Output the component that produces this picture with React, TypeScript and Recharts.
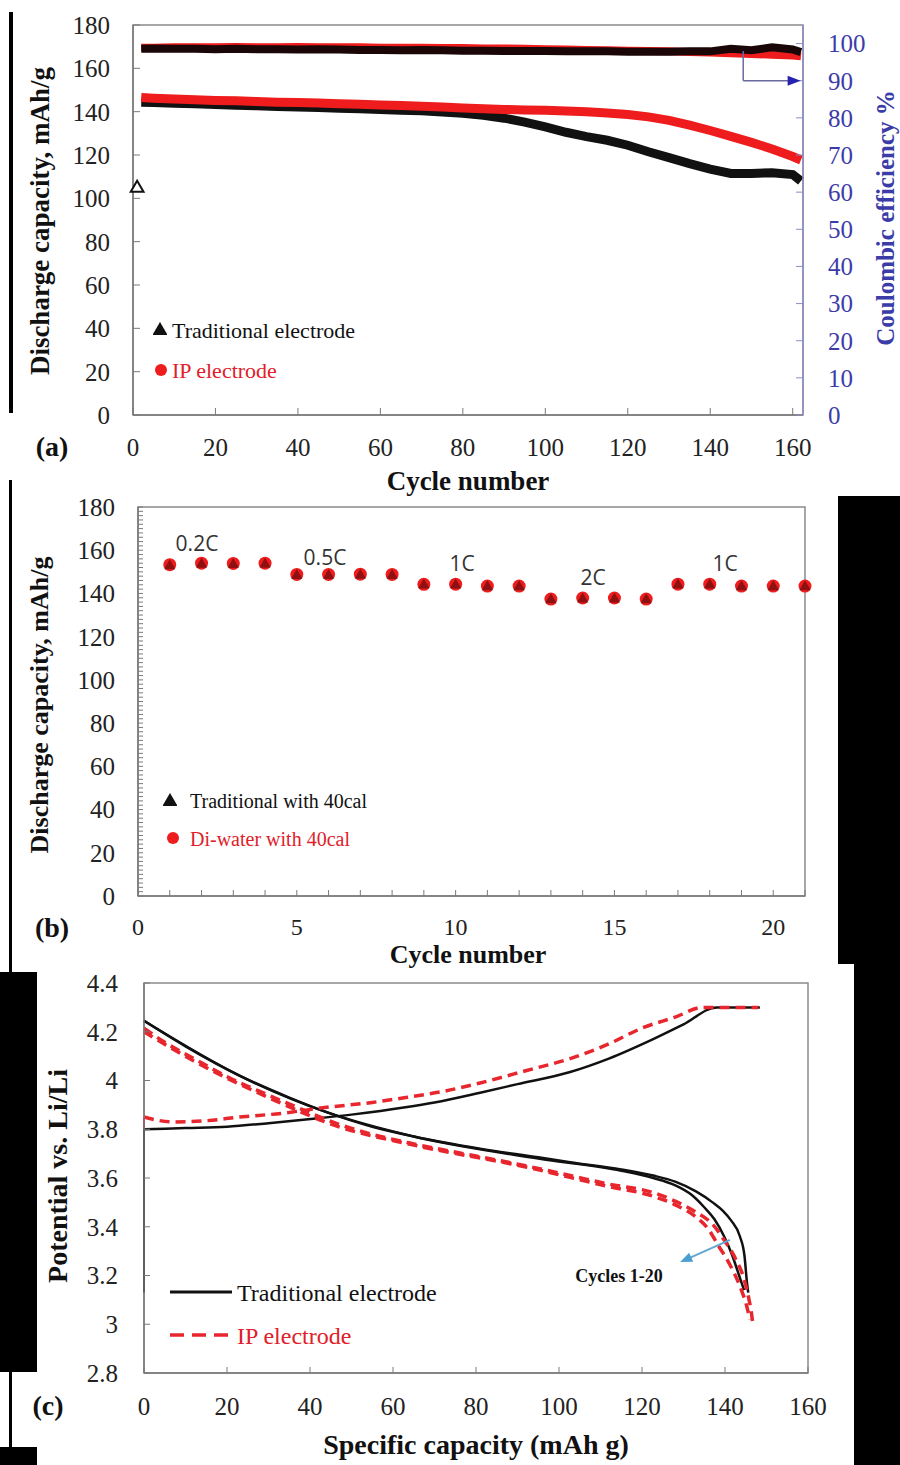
import React from 'react';
import {
  ComposedChart,
  Line,
  XAxis,
  YAxis,
  ReferenceArea,
  ReferenceLine,
  ReferenceDot,
} from 'recharts';

const SERIF = '"Liberation Serif", "Times New Roman", serif';
const SANS = '"Open Sans", "Noto Sans", sans-serif';
const RED = '#ee1c1c';
const BLACK = '#111111';
const BLUE = '#3c3ca8';
const AXIS = '#7a7a7a';

// (a) long-term cycling
const cycleA = [2, 5, 10, 15, 20, 25, 30, 35, 40, 45, 50, 55, 60, 65, 70, 75, 80, 85, 90, 95, 100, 105, 110, 115, 120, 125, 130, 135, 140, 145, 150, 155, 160, 162];
const tradCapacity = [144.3, 144.2, 143.9, 143.6, 143.3, 143.0, 142.7, 142.4, 142.1, 141.9, 141.6, 141.3, 141.0, 140.7, 140.4, 139.9, 139.3, 138.3, 137.0, 135.2, 133.0, 130.5, 128.5, 126.8, 124.5, 121.5, 118.8, 116.0, 113.5, 111.5, 111.5, 111.8, 111.0, 108.0];
const ipCapacity = [146.5, 146.2, 145.8, 145.5, 145.2, 145.0, 144.7, 144.4, 144.2, 144.0, 143.7, 143.4, 143.1, 142.8, 142.5, 142.1, 141.7, 141.3, 141.0, 140.8, 140.6, 140.3, 140.0, 139.4, 138.7, 137.6, 136.0, 133.8, 131.3, 128.6, 125.8, 122.8, 119.3, 117.7];
const tradCE = [98.6, 98.7, 98.6, 98.6, 98.5, 98.6, 98.5, 98.5, 98.4, 98.5, 98.4, 98.3, 98.3, 98.2, 98.3, 98.2, 98.1, 98.1, 98.0, 98.0, 98.0, 97.9, 97.9, 97.9, 97.8, 97.8, 97.8, 97.9, 97.9, 98.6, 98.2, 99.0, 98.4, 97.7];
const ipCE = [98.9, 98.9, 99.0, 99.0, 99.0, 99.1, 99.0, 99.0, 99.1, 99.0, 99.0, 99.0, 98.9, 98.9, 98.9, 98.8, 98.8, 98.7, 98.7, 98.6, 98.5, 98.4, 98.3, 98.2, 98.1, 98.0, 97.9, 97.7, 97.6, 97.4, 97.2, 97.0, 96.8, 96.6];
const tradFirstCycle = [{ cycle: 1, cap: 105 }];
const capTicks = [0, 20, 40, 60, 80, 100, 120, 140, 160, 180];
const ceTicks = [0, 10, 20, 30, 40, 50, 60, 70, 80, 90, 100];
const cycleTicksA = [0, 20, 40, 60, 80, 100, 120, 140, 160];

// (b) rate capability
const rateCycles = [1, 2, 3, 4, 5, 6, 7, 8, 9, 10, 11, 12, 13, 14, 15, 16, 17, 18, 19, 20, 21];
const ipRate = [153.3, 154.0, 153.9, 154.0, 148.8, 148.8, 148.9, 148.8, 144.2, 144.3, 143.4, 143.4, 137.4, 137.9, 137.9, 137.4, 144.3, 144.3, 143.4, 143.4, 143.4];
const tradRate = [153.0, 153.6, 153.5, 153.6, 148.5, 148.5, 148.6, 148.5, 144.0, 144.0, 143.2, 143.2, 137.2, 137.6, 137.6, 137.2, 144.0, 144.0, 143.2, 143.2, 143.2];
const rateXTicks = Array.from({ length: 22 }, (_, i) => i);
const rateYTicks = Array.from({ length: 91 }, (_, i) => i * 2);

// (c) charge / discharge profiles, [capacity, potential]
const tradStart: [number, number][] = [[0, 3.13], [0, 3.8]];
const tradCharge: [number, number][] = [[0, 3.8], [10, 3.805], [20, 3.81], [30, 3.825], [42, 3.845], [50, 3.86], [63, 3.89], [70, 3.91], [81, 3.95], [90, 3.985], [102.7, 4.035], [112, 4.09], [122.7, 4.17], [130, 4.23], [138, 4.3], [148.4, 4.3]];
const tradDischargeA: [number, number][] = [[0, 4.245], [10, 4.14], [23, 4.02], [35, 3.93], [44, 3.87], [55, 3.81], [65, 3.77], [81, 3.72], [95, 3.685], [102.7, 3.665], [115, 3.635], [122.7, 3.61], [128, 3.585], [133, 3.545], [137, 3.5], [139.5, 3.465], [141.5, 3.425], [143.6, 3.36], [144.7, 3.28], [145.3, 3.17], [145.6, 3.13]];
const tradDischargeB: [number, number][] = [[0, 4.245], [23, 4.02], [44, 3.87], [65, 3.77], [95, 3.68], [115, 3.63], [122.7, 3.6], [128, 3.57], [132, 3.53], [135, 3.48], [137.5, 3.43], [139.8, 3.36], [141.8, 3.28], [143.4, 3.2], [144.6, 3.14]];
const ipStart: [number, number][] = [[0, 3.55], [0, 3.85]];
const ipCharge: [number, number][] = [[0, 3.85], [7, 3.83], [15, 3.835], [23, 3.85], [33, 3.865], [44, 3.89], [55, 3.91], [63, 3.93], [72, 3.955], [81, 3.99], [92, 4.04], [102.7, 4.09], [112, 4.15], [120, 4.215], [128, 4.26], [134.7, 4.3], [148, 4.3]];
const ipDischargeA: [number, number][] = [[0, 4.215], [4.7, 4.16], [12, 4.09], [20.7, 4.01], [30, 3.94], [36.9, 3.89], [47, 3.82], [56, 3.775], [65, 3.74], [80, 3.69], [92, 3.65], [102.7, 3.61], [112, 3.575], [122.7, 3.54], [128, 3.505], [133, 3.46], [137, 3.41], [140, 3.34], [142.5, 3.27], [144.5, 3.19], [145.8, 3.1], [146.5, 3.03], [146.7, 3.0]];
const ipDischargeB: [number, number][] = [[0, 4.2], [12, 4.08], [30, 3.93], [47, 3.81], [65, 3.735], [92, 3.645], [112, 3.565], [122.7, 3.525], [128, 3.49], [133, 3.44], [136, 3.39], [138.5, 3.32], [141, 3.25], [143.5, 3.16], [145.3, 3.07], [146, 3.02]];
const capTicksC = [0, 20, 40, 60, 80, 100, 120, 140, 160];
const potentialTicks = [2.8, 3.0, 3.2, 3.4, 3.6, 3.8, 4.0, 4.2, 4.4];

const rowsA = cycleA.map((cycle, i) => ({
  cycle,
  trad: tradCapacity[i],
  ip: ipCapacity[i],
  tradCe: tradCE[i],
  ipCe: ipCE[i],
}));
const rowsB = rateCycles.map((cycle, i) => ({ cycle, ip: ipRate[i], trad: tradRate[i] }));
const toRows = (pts: [number, number][]) => pts.map(([cap, v]) => ({ cap, v }));

const tickStyle = { fill: '#222', fontSize: 25, fontFamily: SERIF };
const axisLine = { stroke: AXIS, strokeWidth: 1.5 };

function Txt({
  x,
  y,
  children,
  size = 25,
  bold = false,
  color = '#111',
  rotate = 0,
  align = 'center',
  family = SERIF,
}: {
  x: number;
  y: number;
  children: React.ReactNode;
  size?: number;
  bold?: boolean;
  color?: string;
  rotate?: number;
  align?: 'center' | 'left';
  family?: string;
}) {
  return (
    <div
      style={{
        position: 'absolute',
        left: x,
        top: y,
        transform: `translate(${align === 'center' ? '-50%' : '0'}, -50%) rotate(${rotate}deg)`,
        fontFamily: family,
        fontSize: size,
        fontWeight: bold ? 700 : 400,
        color,
        whiteSpace: 'nowrap',
        lineHeight: 1,
      }}
    >
      {children}
    </div>
  );
}

function Block({ x, y, w, h }: { x: number; y: number; w: number; h: number }) {
  return <div style={{ position: 'absolute', left: x, top: y, width: w, height: h, background: '#000' }} />;
}

const triangle = (cx: number, cy: number, s: number) =>
  `M${cx},${cy - s * 0.62} L${cx + s * 0.58},${cy + s * 0.38} L${cx - s * 0.58},${cy + s * 0.38} Z`;

function CircleDot(props: any) {
  const { cx, cy, index } = props;
  if (cx == null || cy == null) return <g key={`c-${index}`} />;
  return <circle key={`c-${index}`} cx={cx} cy={cy} r={6.5} fill={RED} />;
}

function TriangleDot(props: any) {
  const { cx, cy, index } = props;
  if (cx == null || cy == null) return <g key={`t-${index}`} />;
  return <path key={`t-${index}`} d={triangle(cx, cy, 10)} fill="#000" fillOpacity={0.4} />;
}

function HollowTriangle(props: any) {
  const { cx, cy, index } = props;
  if (cx == null || cy == null) return <g key={`h-${index}`} />;
  return <path key={`h-${index}`} d={triangle(cx, cy, 11)} fill="#fff" stroke={BLACK} strokeWidth={2} />;
}

function ArrowRight(props: any) {
  const { cx, cy } = props;
  return <path d={`M${cx - 10},${cy - 5} L${cx + 3},${cy} L${cx - 10},${cy + 5} Z`} fill="#2323b0" />;
}

function ArrowDownLeft(props: any) {
  const { cx, cy } = props;
  const dx = -0.915;
  const dy = 0.403;
  const bx = cx - dx * 12;
  const by = cy - dy * 12;
  const px = -dy * 5;
  const py = dx * 5;
  return <path d={`M${cx},${cy} L${bx + px},${by + py} L${bx - px},${by - py} Z`} fill="#4a9fd0" />;
}

function LegendMark({ kind }: { kind: 'tri' | 'dot' | 'solid' | 'dash' }) {
  if (kind === 'tri') {
    return (
      <svg width={14} height={14} style={{ display: 'block' }}>
        <path d={triangle(7, 8, 13)} fill={BLACK} />
      </svg>
    );
  }
  if (kind === 'dot') {
    return (
      <svg width={14} height={14} style={{ display: 'block' }}>
        <circle cx={7} cy={7} r={6} fill={RED} />
      </svg>
    );
  }
  return (
    <svg width={64} height={8} style={{ display: 'block' }}>
      <line
        x1={1}
        x2={63}
        y1={4}
        y2={4}
        stroke={kind === 'solid' ? BLACK : '#e8262e'}
        strokeWidth={kind === 'solid' ? 3 : 3.5}
        strokeDasharray={kind === 'dash' ? '14 8' : undefined}
      />
    </svg>
  );
}

function Mark({ x, y, kind }: { x: number; y: number; kind: 'tri' | 'dot' | 'solid' | 'dash' }) {
  return (
    <div style={{ position: 'absolute', left: x, top: y, transform: 'translate(0, -50%)' }}>
      <LegendMark kind={kind} />
    </div>
  );
}

export default function App() {
  return (
    <div
      style={{
        position: 'absolute',
        left: 0,
        top: 0,
        width: 900,
        height: 1465,
        overflow: 'hidden',
        background: '#fff',
      }}
    >
      {/* (a) discharge capacity and coulombic efficiency over 162 cycles */}
      <div style={{ position: 'absolute', left: 0, top: 0 }}>
        <ComposedChart width={900} height={470} data={rowsA} margin={{ top: 25, right: 37, bottom: 15, left: 73 }}>
          <ReferenceArea yAxisId="cap" x1={0} x2={162.5} y1={0} y2={180} fillOpacity={0} stroke="#8a8a8a" strokeWidth={1.5} />
          <XAxis
            type="number"
            dataKey="cycle"
            domain={[0, 162.5]}
            ticks={cycleTicksA}
            interval={0}
            height={40}
            tickSize={-7}
            tickMargin={30}
            axisLine={axisLine}
            tickLine={{ stroke: AXIS }}
            tick={tickStyle}
          />
          <YAxis
            yAxisId="cap"
            domain={[0, 180]}
            ticks={capTicks}
            interval={0}
            width={60}
            tickSize={-7}
            tickMargin={30}
            axisLine={axisLine}
            tickLine={{ stroke: AXIS }}
            tick={tickStyle}
          />
          <YAxis
            yAxisId="ce"
            orientation="right"
            domain={[0, 105]}
            ticks={ceTicks}
            interval={0}
            width={60}
            tickSize={-7}
            tickMargin={32}
            axisLine={{ stroke: '#8d8dc4', strokeWidth: 1.5 }}
            tickLine={{ stroke: '#8d8dc4' }}
            tick={{ ...tickStyle, fill: BLUE }}
          />
          <Line yAxisId="ce" dataKey="ipCe" stroke={RED} strokeWidth={8} dot={false} isAnimationActive={false} />
          <Line yAxisId="ce" dataKey="tradCe" stroke="#1a0606" strokeWidth={8} dot={false} isAnimationActive={false} />
          <Line yAxisId="cap" dataKey="trad" stroke={BLACK} strokeWidth={9} dot={false} isAnimationActive={false} />
          <Line yAxisId="cap" dataKey="ip" stroke={RED} strokeWidth={9} dot={false} isAnimationActive={false} />
          <Line
            yAxisId="cap"
            data={tradFirstCycle}
            dataKey="cap"
            stroke="none"
            dot={HollowTriangle}
            isAnimationActive={false}
          />
          <ReferenceLine
            yAxisId="ce"
            segment={[
              { x: 148, y: 98 },
              { x: 148, y: 90 },
            ]}
            stroke="#6a6aa0"
            strokeWidth={1.5}
          />
          <ReferenceLine
            yAxisId="ce"
            segment={[
              { x: 148, y: 90 },
              { x: 160, y: 90 },
            ]}
            stroke="#6a6aa0"
            strokeWidth={1.5}
          />
          <ReferenceDot yAxisId="ce" x={161.2} y={90} r={5} shape={ArrowRight} />
        </ComposedChart>
      </div>

      {/* (b) rate capability */}
      <div style={{ position: 'absolute', left: 0, top: 480 }}>
        <ComposedChart width={900} height={470} data={rowsB} margin={{ top: 27, right: 95, bottom: 14, left: 78 }}>
          <ReferenceArea x1={0} x2={21} y1={0} y2={180} fillOpacity={0} stroke="#8a8a8a" strokeWidth={1.5} />
          <XAxis
            type="number"
            dataKey="cycle"
            domain={[0, 21]}
            ticks={rateXTicks}
            interval={0}
            height={40}
            tickSize={-6}
            tickMargin={28}
            tickFormatter={(v: number) => (v % 5 === 0 ? String(v) : '')}
            axisLine={axisLine}
            tickLine={{ stroke: AXIS }}
            tick={{ ...tickStyle, fontSize: 24 }}
          />
          <YAxis
            domain={[0, 180]}
            ticks={rateYTicks}
            interval={0}
            width={60}
            tickSize={-5}
            tickMargin={28}
            tickFormatter={(v: number) => (v % 20 === 0 ? String(v) : '')}
            axisLine={axisLine}
            tickLine={{ stroke: AXIS }}
            tick={tickStyle}
          />
          <Line dataKey="ip" stroke="none" dot={CircleDot} isAnimationActive={false} />
          <Line dataKey="trad" stroke="none" dot={TriangleDot} isAnimationActive={false} />
        </ComposedChart>
      </div>

      {/* (c) charge / discharge curves, cycles 1-20 */}
      <div style={{ position: 'absolute', left: 0, top: 960 }}>
        <ComposedChart width={900} height={470} margin={{ top: 23, right: 92, bottom: 17, left: 84 }}>
          <ReferenceArea x1={0} x2={160} y1={2.8} y2={4.4} fillOpacity={0} stroke="#8a8a8a" strokeWidth={1.5} />
          <XAxis
            type="number"
            dataKey="cap"
            domain={[0, 160]}
            ticks={capTicksC}
            interval={0}
            height={40}
            tickSize={-6}
            tickMargin={30}
            axisLine={axisLine}
            tickLine={{ stroke: AXIS }}
            tick={tickStyle}
            allowDuplicatedCategory={false}
          />
          <YAxis
            type="number"
            domain={[2.8, 4.4]}
            ticks={potentialTicks}
            interval={0}
            width={60}
            tickSize={-6}
            tickMargin={32}
            tickFormatter={(v: number) => String(Number(v.toFixed(1)))}
            axisLine={axisLine}
            tickLine={{ stroke: AXIS }}
            tick={tickStyle}
          />
          <Line data={toRows(ipStart)} dataKey="v" type="linear" stroke="#e8262e" strokeWidth={2} dot={false} isAnimationActive={false} />
          <Line data={toRows(tradStart)} dataKey="v" type="linear" stroke={BLACK} strokeWidth={2} dot={false} isAnimationActive={false} />
          <Line data={toRows(tradCharge)} dataKey="v" type="monotone" stroke={BLACK} strokeWidth={2.5} dot={false} isAnimationActive={false} />
          <Line data={toRows(tradDischargeB)} dataKey="v" type="monotone" stroke={BLACK} strokeWidth={2.5} dot={false} isAnimationActive={false} />
          <Line data={toRows(tradDischargeA)} dataKey="v" type="monotone" stroke={BLACK} strokeWidth={2.5} dot={false} isAnimationActive={false} />
          <Line
            data={toRows(ipCharge)}
            dataKey="v"
            type="monotone"
            stroke="#e8262e"
            strokeWidth={3.5}
            strokeDasharray="10 6"
            dot={false}
            isAnimationActive={false}
          />
          <Line
            data={toRows(ipDischargeB)}
            dataKey="v"
            type="monotone"
            stroke="#e8262e"
            strokeWidth={3.5}
            strokeDasharray="10 6"
            dot={false}
            isAnimationActive={false}
          />
          <Line
            data={toRows(ipDischargeA)}
            dataKey="v"
            type="monotone"
            stroke="#e8262e"
            strokeWidth={3.5}
            strokeDasharray="10 6"
            dot={false}
            isAnimationActive={false}
          />
          <ReferenceLine
            segment={[
              { x: 141.2, y: 3.346 },
              { x: 131.5, y: 3.272 },
            ]}
            stroke="#5fa8d3"
            strokeWidth={2}
          />
          <ReferenceDot x={129.2} y={3.255} r={5} shape={ArrowDownLeft} />
        </ComposedChart>
      </div>

      {/* panel (a) text */}
      <Txt x={40} y={221} size={27} bold rotate={-90}>Discharge capacity, mAh/g</Txt>
      <Txt x={468} y={481} size={27} bold>Cycle number</Txt>
      <Txt x={52} y={447} size={28} bold>(a)</Txt>
      <Txt x={885} y={218} size={25} bold rotate={-90} color={BLUE}>Coulombic efficiency %</Txt>
      <Mark x={153} y={329} kind="tri" />
      <Txt x={172} y={331} size={22} align="left">Traditional electrode</Txt>
      <Mark x={154} y={370} kind="dot" />
      <Txt x={172} y={371} size={22} align="left" color="#e0202a">IP electrode</Txt>

      {/* panel (b) text */}
      <Txt x={40} y={705} size={26} bold rotate={-90}>Discharge capacity, mAh/g</Txt>
      <Txt x={468} y={955} size={26} bold>Cycle number</Txt>
      <Txt x={52} y={928} size={28} bold>(b)</Txt>
      <Txt x={197} y={543} size={21} family={SANS} color="#333">0.2C</Txt>
      <Txt x={325} y={557} size={21} family={SANS} color="#333">0.5C</Txt>
      <Txt x={462} y={563} size={21} family={SANS} color="#333">1C</Txt>
      <Txt x={593} y={577} size={21} family={SANS} color="#333">2C</Txt>
      <Txt x={725} y={563} size={21} family={SANS} color="#333">1C</Txt>
      <Mark x={163} y={800} kind="tri" />
      <Txt x={190} y={801} size={20} align="left">Traditional with 40cal</Txt>
      <Mark x={166} y={838} kind="dot" />
      <Txt x={190} y={839} size={20} align="left" color="#e0202a">Di-water with 40cal</Txt>

      {/* panel (c) text */}
      <Txt x={58} y={1176} size={28} bold rotate={-90}>Potential vs. Li/Li</Txt>
      <Txt x={476} y={1445} size={28} bold>Specific capacity (mAh g)</Txt>
      <Txt x={48} y={1406} size={28} bold>(c)</Txt>
      <Txt x={619} y={1276} size={18} bold>Cycles 1-20</Txt>
      <Mark x={169} y={1292} kind="solid" />
      <Txt x={237} y={1293} size={24} align="left">Traditional electrode</Txt>
      <Mark x={169} y={1335} kind="dash" />
      <Txt x={237} y={1336} size={24} align="left" color="#e0202a">IP electrode</Txt>

      {/* scan borders */}
      <Block x={9} y={12} w={4} h={401} />
      <Block x={9} y={480} w={3} h={967} />
      <Block x={838} y={496} w={62} h={468} />
      <Block x={854} y={964} w={46} h={501} />
      <Block x={0} y={972} w={37} h={400} />
      <Block x={0} y={1447} w={37} h={18} />
    </div>
  );
}
